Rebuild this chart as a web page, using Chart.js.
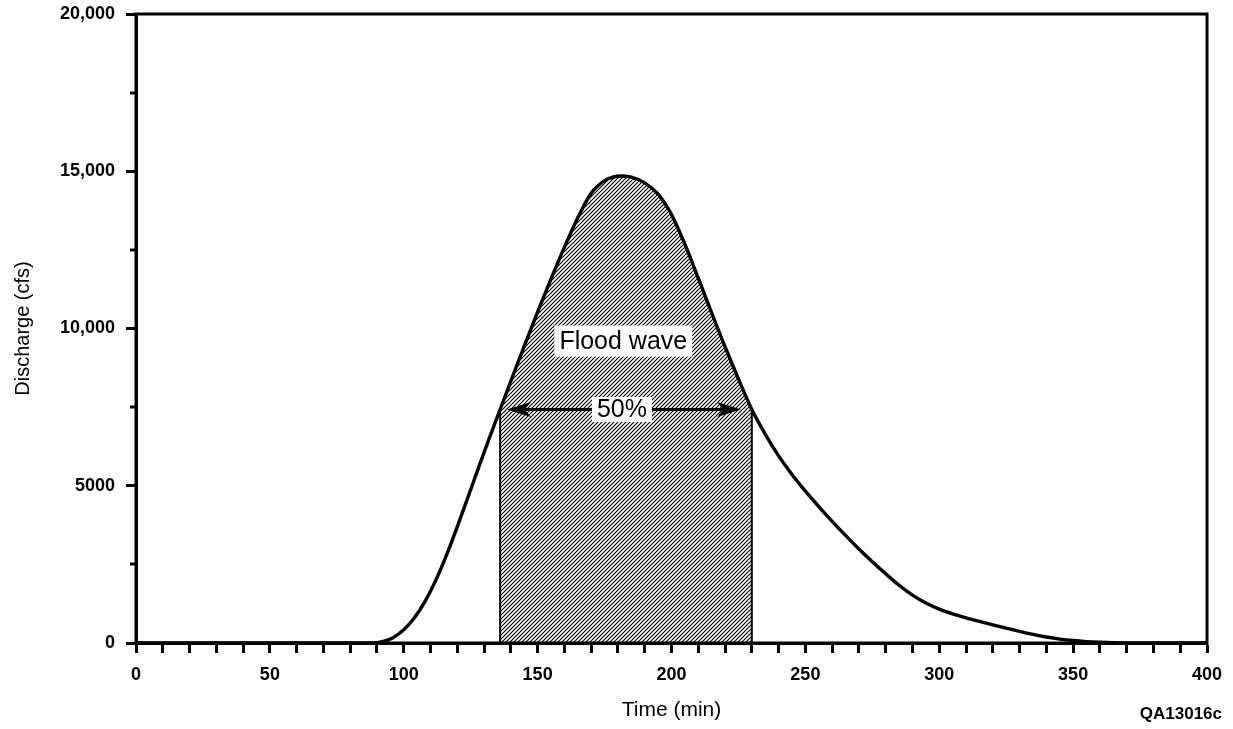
<!DOCTYPE html>
<html>
<head>
<meta charset="utf-8">
<title>Flood wave hydrograph</title>
<script src="https://cdn.jsdelivr.net/npm/chart.js@4.4.1/dist/chart.umd.min.js"></script>
<style>
  html, body { margin: 0; padding: 0; background: #fff; }
  #c { display: block; }
</style>
</head>
<body>
<canvas id="c" width="1233" height="729"></canvas>
<script>
// Hydrograph: discharge (cfs) against time (min)
const timeMin = [
  0, 88, 92, 96, 100, 104, 108, 112, 116, 120, 124, 128, 132, 136, 140, 145, 150, 155, 160, 165, 170, 175, 178, 181,
  185, 190, 195, 200, 205, 210, 215, 220, 225, 230, 235, 240, 245, 250, 255, 260, 265, 270, 275, 280, 285, 290,
  295, 300, 305, 310, 315, 320, 325, 330, 335, 340, 345, 350, 355, 360, 365, 370, 375, 400
];
const dischargeCfs = [
  0, 0, 40, 170, 420, 800, 1330, 2000, 2800, 3700, 4640, 5590, 6520, 7425, 8330, 9440, 10530, 11580, 12580, 13520, 14300, 14700, 14810, 14850,
  14810, 14630, 14270, 13620, 12680, 11600, 10500, 9420, 8400, 7425, 6640, 5950, 5360, 4830, 4340, 3870, 3420, 2990, 2585, 2200, 1835, 1520,
  1270, 1075, 925, 800, 685, 575, 470, 368, 272, 190, 125, 78, 45, 24, 10, 3, 0, 0
];

// Axis tick labels
const xTickLabels = { 0: '0', 50: '50', 100: '100', 150: '150', 200: '200', 250: '250', 300: '300', 350: '350', 400: '400' };
const yTickLabels = { 0: '0', 5000: '5000', 10000: '10,000', 15000: '15,000', 20000: '20,000' };

// Flood wave: the part of the hydrograph above 50% of peak discharge
const waveStart = 136;
const waveEnd = 230;
const halfPeak = 7425;
const arrowFrom = 138.5;
const arrowTo = 226;
const waveLabel = { text: 'Flood wave', x: 182, y: 9600 };
const pctLabel  = { text: '50%', x: 181.5, y: halfPeak };
const figureId = 'QA13016c';

const FONT = "'Liberation Sans', Arial, Helvetica, sans-serif";

const curve = timeMin.map((t, i) => ({ x: t, y: dischargeCfs[i] }));
const iStart = timeMin.indexOf(waveStart);
const iEnd = timeMin.indexOf(waveEnd);
const wave = curve.slice(iStart, iEnd + 1);
const leftEdge  = [{ x: waveStart, y: 0 }, { x: waveStart, y: dischargeCfs[iStart] }];
const rightEdge = [{ x: waveEnd, y: 0 }, { x: waveEnd, y: dischargeCfs[iEnd] }];

const canvas = document.getElementById('c');
const ctx = canvas.getContext('2d');

// diagonal "////" hatch
function makeHatch() {
  const s = 4;
  const t = document.createElement('canvas');
  t.width = s; t.height = s;
  const g = t.getContext('2d');
  g.strokeStyle = '#000';
  g.lineWidth = 1.1;
  g.beginPath();
  g.moveTo(0, s); g.lineTo(s, 0);
  g.moveTo(-1, 1); g.lineTo(1, -1);
  g.moveTo(s - 1, s + 1); g.lineTo(s + 1, s - 1);
  g.stroke();
  return ctx.createPattern(t, 'repeat');
}

function arrowHead(c, tipX, y, dir) {
  const L = 24, W = 7.5;
  c.beginPath();
  c.moveTo(tipX, y);
  c.lineTo(tipX - dir * L, y - W);
  c.lineTo(tipX - dir * L * 0.75, y);
  c.lineTo(tipX - dir * L, y + W);
  c.closePath();
  c.fill();
}

function boxedText(c, label, fontPx, padX, padY, px, py) {
  c.font = fontPx + 'px ' + FONT;
  const w = c.measureText(label).width;
  c.fillStyle = '#fff';
  c.fillRect(px - w / 2 - padX, py - fontPx / 2 - padY, w + 2 * padX, fontPx + 2 * padY);
  c.fillStyle = '#000';
  c.textAlign = 'center';
  c.textBaseline = 'middle';
  c.fillText(label, px, py + 1);
}

const decorations = {
  id: 'decorations',
  afterDatasetsDraw(chart) {
    const c = chart.ctx, x = chart.scales.x, y = chart.scales.y;
    c.save();
    // arrow spanning the flood wave at half peak
    const ay = y.getPixelForValue(halfPeak);
    const ax0 = x.getPixelForValue(arrowFrom), ax1 = x.getPixelForValue(arrowTo);
    c.strokeStyle = '#000';
    c.fillStyle = '#000';
    c.lineWidth = 2.8;
    c.beginPath();
    c.moveTo(ax0 + 12, ay); c.lineTo(ax1 - 12, ay);
    c.stroke();
    arrowHead(c, ax0, ay, -1);
    arrowHead(c, ax1, ay, 1);
    // labels on white boxes
    boxedText(c, waveLabel.text, 25, 5, 3, x.getPixelForValue(waveLabel.x), y.getPixelForValue(waveLabel.y));
    boxedText(c, pctLabel.text, 25, 5, 0, x.getPixelForValue(pctLabel.x), y.getPixelForValue(pctLabel.y));
    c.restore();
  },
  afterDraw(chart) {
    const c = chart.ctx, y = chart.scales.y, a = chart.chartArea;
    c.save();
    // minor ticks on the discharge axis
    c.strokeStyle = '#000';
    c.lineWidth = 3;
    y.ticks.forEach(t => {
      if (t.value % 5000 === 0) return;
      const py = Math.round(y.getPixelForValue(t.value));
      c.beginPath(); c.moveTo(a.left - 6, py); c.lineTo(a.left, py); c.stroke();
    });
    // frame
    c.strokeRect(a.left, a.top, a.right - a.left, a.bottom - a.top);
    // figure number
    c.font = 'bold 17px ' + FONT;
    c.fillStyle = '#000';
    c.textAlign = 'right';
    c.textBaseline = 'middle';
    c.fillText(figureId, 1222, 714);
    c.restore();
  }
};

new Chart(ctx, {
  type: 'line',
  data: {
    datasets: [
      { data: curve, borderColor: '#000', borderWidth: 3.4, pointRadius: 0,
        cubicInterpolationMode: 'monotone', fill: false, order: 0 },
      { data: leftEdge, borderColor: '#000', borderWidth: 2, pointRadius: 0, fill: false, order: 1 },
      { data: rightEdge, borderColor: '#000', borderWidth: 2, pointRadius: 0, fill: false, order: 1 },
      { data: wave, borderWidth: 0, borderColor: 'rgba(0,0,0,0)', pointRadius: 0,
        cubicInterpolationMode: 'monotone', fill: 'origin', backgroundColor: makeHatch(), order: 2 }
    ]
  },
  options: {
    responsive: false,
    animation: false,
    events: [],
    layout: { padding: { top: 14, right: 26, left: 0, bottom: 0 } },
    plugins: { legend: { display: false }, tooltip: { enabled: false } },
    scales: {
      x: {
        type: 'linear', min: 0, max: 400,
        afterFit(s) { s.height = 86; s.paddingLeft = 0; s.paddingRight = 0; },
        ticks: {
          stepSize: 10, autoSkip: false, maxRotation: 0, padding: 11,
          color: '#000', font: { family: FONT, size: 18, weight: 'bold' },
          callback: v => (v in xTickLabels ? xTickLabels[v] : '')
        },
        grid: { drawOnChartArea: false, drawTicks: true, tickLength: 10, tickWidth: 3, tickColor: '#000' },
        border: { display: true, color: '#000', width: 3 },
        title: { display: true, text: 'Time (min)', color: '#000', font: { family: FONT, size: 21 }, padding: { top: 0, bottom: 6 } }
      },
      y: {
        min: 0, max: 20000,
        afterFit(s) { s.width = 136; s.paddingTop = 0; s.paddingBottom = 0; },
        ticks: {
          stepSize: 2500, autoSkip: false, padding: 11,
          color: '#000', font: { family: FONT, size: 18, weight: 'bold' },
          callback: v => (v in yTickLabels ? yTickLabels[v] : '')
        },
        grid: {
          drawOnChartArea: false, drawTicks: true, tickLength: 10, tickWidth: 3,
          tickColor: c => (c.tick && c.tick.value % 5000 !== 0 ? 'rgba(0,0,0,0)' : '#000')
        },
        border: { display: true, color: '#000', width: 3 },
        title: { display: true, text: 'Discharge (cfs)', color: '#000', font: { family: FONT, size: 20 }, padding: { top: 11, bottom: 0 } }
      }
    }
  },
  plugins: [decorations]
});
</script>
</body>
</html>
